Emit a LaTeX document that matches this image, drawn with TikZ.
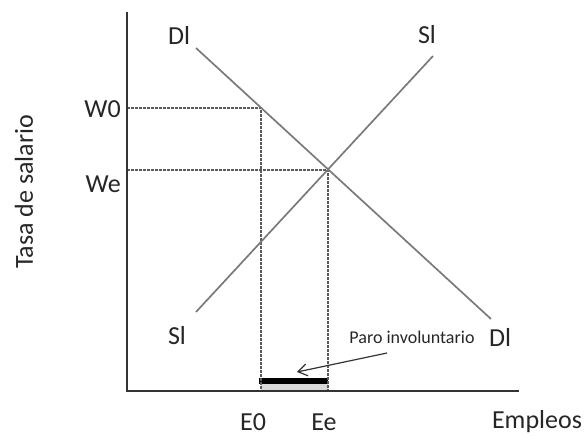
\documentclass[tikz,border=0pt]{standalone}
\usepackage{fontspec}
\setmainfont{Carlito}
\usetikzlibrary{arrows.meta}
\definecolor{txt}{HTML}{262626}
\definecolor{curve}{HTML}{7A7A7A}
\definecolor{guidec}{HTML}{5A5A5A}
\definecolor{axis}{HTML}{333333}
\tikzset{
  lbl/.style={text=txt, font=\fontsize{26}{26}\selectfont, inner sep=0pt},
  small/.style={text=txt, font=\fontsize{18}{18}\selectfont, inner sep=0pt},
  curveline/.style={draw=curve, line width=1.7pt},
  guide/.style={draw=guidec, line width=1.3pt, dash pattern=on 2.5pt off 1.5pt},
  axisline/.style={draw=axis, line width=1.7pt},
}
\begin{document}
\begin{tikzpicture}[x=1pt,y=-1pt]
\useasboundingbox (0,0) rectangle (587,437);
% coordinates
\coordinate (ytop) at (127,12);
\coordinate (orig) at (127,391);
\coordinate (xend) at (519,391);
\coordinate (d1) at (196,48);
\coordinate (d2) at (491,319);
\coordinate (s1) at (196,312);
\coordinate (s2) at (433,56);
\coordinate (w0y) at (127,108);
\coordinate (w0p) at (261,108);
\coordinate (e0x) at (261,391);
\coordinate (wey) at (127,170);
\coordinate (eq) at (328,170);
\coordinate (eex) at (328,391);
\coordinate (arrS) at (387,353);
\coordinate (arrE) at (297,372);
% shaded band and bar
\fill[gray!30] (261,384) rectangle (328,390);
\fill[black] (259,378) rectangle (328,384);
% guides
\draw[guide] (w0y) -- (w0p) -- (e0x);
\draw[guide] (wey) -- (eq) -- (eex);
% curves
\draw[curveline] (d1) -- (d2);
\draw[curveline] (s1) -- (s2);
% axes
\draw[axisline] (ytop) -- (orig) -- (xend);
% arrow
\draw[draw=axis, line width=1.2pt, -{Straight Barb[length=9pt,width=12pt]}] (arrS) -- (arrE);
% labels
\node[lbl] (dltop) at (179,35) {Dl};
\node[lbl] (sltop) at (427,35) {Sl};
\node[lbl] (slbot) at (177,336) {Sl};
\node[lbl] (dlbot) at (500,337) {Dl};
\node[small] (paro) at (412,337) {Paro involuntario};
\node[lbl, anchor=east] (w0) at (121,109) {W0};
\node[lbl, anchor=east] (we) at (121,184) {We};
\node[lbl] (e0) at (253,422) {E0};
\node[lbl] (ee) at (324,422) {Ee};
\node[lbl] (empl) at (537,422) {Empleos};
\node[lbl, rotate=90] (tasa) at (24,192) {Tasa de salario};
\end{tikzpicture}
\end{document}
